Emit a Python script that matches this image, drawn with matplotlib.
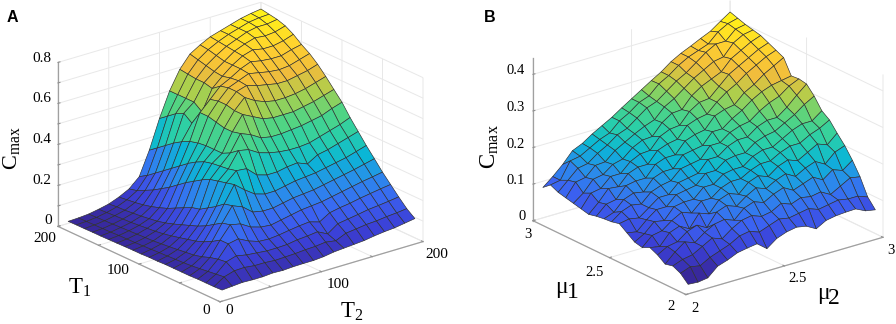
import numpy as np
import matplotlib
matplotlib.use("Agg")
import matplotlib.pyplot as plt
from matplotlib.colors import LinearSegmentedColormap
from mpl_toolkits.mplot3d import proj3d

plt.rcParams['mathtext.fontset'] = 'custom'
plt.rcParams['mathtext.rm'] = 'Liberation Serif'
plt.rcParams['mathtext.it'] = 'Liberation Serif'
plt.rcParams['font.family'] = ['Liberation Serif', 'DejaVu Serif']

T_values = [10, 20, 30, 40, 50, 60, 70, 80, 90, 100, 110, 120, 130, 140, 150, 160, 170, 180, 190, 200]
mu_values = [2.05, 2.10, 2.15, 2.20, 2.25, 2.30, 2.35, 2.40, 2.45, 2.50, 2.55, 2.60, 2.65, 2.70, 2.75, 2.80, 2.85, 2.90, 2.95, 3.00]

cmax_A = [
 [.024,.028,.032,.030,.030,.034,.032,.035,.036,.036,.040,.048,.052,.056,.060,.068,.074,.078,.086,.094],
 [.022,.055,.070,.072,.066,.066,.062,.064,.066,.070,.072,.078,.070,.092,.098,.105,.108,.114,.118,.124],
 [.022,.050,.095,.110,.100,.095,.090,.090,.092,.100,.104,.110,.085,.120,.128,.136,.145,.150,.156,.163],
 [.022,.045,.090,.150,.160,.135,.118,.115,.120,.128,.135,.140,.125,.155,.165,.172,.182,.190,.198,.205],
 [.020,.040,.080,.150,.210,.200,.170,.155,.150,.160,.170,.180,.185,.190,.200,.210,.220,.230,.238,.247],
 [.020,.035,.065,.125,.200,.270,.250,.210,.200,.200,.210,.220,.225,.230,.240,.250,.260,.270,.282,.294],
 [.020,.032,.055,.105,.175,.260,.340,.300,.265,.250,.250,.260,.270,.275,.280,.290,.300,.310,.325,.340],
 [.020,.030,.050,.090,.150,.230,.330,.375,.370,.325,.310,.310,.320,.325,.305,.335,.345,.360,.375,.390],
 [.018,.028,.045,.080,.130,.205,.320,.365,.440,.430,.400,.385,.375,.370,.370,.375,.390,.405,.420,.440],
 [.018,.026,.040,.070,.115,.180,.310,.360,.410,.490,.470,.440,.430,.430,.435,.440,.450,.460,.480,.496],
 [.016,.024,.036,.060,.100,.170,.290,.355,.390,.480,.550,.525,.500,.490,.490,.490,.500,.510,.525,.540],
 [.016,.022,.032,.052,.085,.150,.265,.345,.390,.480,.550,.600,.570,.550,.540,.540,.545,.555,.570,.585],
 [.015,.020,.030,.046,.072,.130,.240,.325,.390,.490,.560,.610,.625,.610,.600,.590,.590,.600,.610,.626],
 [.014,.019,.028,.042,.062,.110,.210,.300,.385,.500,.560,.610,.630,.650,.640,.630,.625,.630,.645,.660],
 [.013,.018,.026,.038,.056,.095,.180,.270,.375,.500,.550,.600,.625,.655,.675,.665,.660,.660,.675,.686],
 [.012,.016,.024,.034,.050,.082,.155,.240,.355,.430,.470,.570,.615,.655,.685,.700,.690,.690,.700,.717],
 [.012,.015,.022,.032,.046,.072,.130,.210,.330,.460,.500,.580,.620,.655,.690,.710,.725,.720,.725,.740],
 [.011,.014,.020,.030,.042,.065,.110,.180,.300,.440,.500,.580,.630,.665,.695,.715,.735,.745,.745,.753],
 [.011,.013,.018,.027,.040,.060,.090,.150,.270,.410,.500,.585,.640,.675,.700,.720,.735,.750,.757,.760],
 [.010,.012,.016,.025,.036,.055,.080,.125,.240,.380,.500,.590,.650,.680,.705,.720,.735,.750,.760,.767],
]

cmax_B = [
 [.010,.008,.012,.036,.045,.057,.062,.066,.045,.065,.075,.080,.075,.060,.075,.080,.082,.083,.070,.065],
 [.030,.040,.035,.050,.060,.070,.085,.090,.080,.090,.100,.095,.100,.105,.095,.100,.105,.100,.100,.090],
 [.040,.050,.055,.070,.085,.075,.095,.110,.115,.105,.110,.125,.115,.125,.120,.125,.110,.125,.140,.135],
 [.035,.060,.080,.070,.090,.105,.110,.100,.125,.135,.125,.140,.150,.135,.145,.155,.140,.160,.150,.170],
 [.050,.065,.070,.090,.100,.085,.120,.130,.120,.140,.155,.145,.160,.170,.155,.170,.180,.165,.190,.200],
 [.060,.055,.085,.095,.080,.115,.105,.135,.145,.135,.160,.170,.160,.180,.190,.180,.195,.210,.200,.224],
 [.050,.075,.080,.100,.115,.105,.130,.130,.150,.160,.160,.175,.185,.185,.200,.210,.210,.225,.235,.250],
 [.055,.070,.095,.090,.120,.125,.125,.150,.150,.170,.175,.175,.195,.205,.205,.220,.235,.245,.245,.265],
 [.070,.065,.090,.110,.110,.135,.140,.145,.170,.170,.190,.195,.195,.215,.225,.230,.245,.260,.280,.295],
 [.085,.090,.085,.105,.125,.125,.150,.155,.160,.190,.190,.210,.220,.220,.240,.250,.250,.270,.295,.318],
 [.080,.100,.110,.105,.130,.140,.145,.170,.175,.180,.210,.210,.230,.240,.245,.265,.280,.290,.310,.322],
 [.078,.088,.115,.125,.120,.150,.160,.160,.190,.195,.200,.230,.230,.250,.265,.285,.300,.310,.315,.320],
 [.075,.100,.105,.135,.140,.140,.170,.180,.180,.210,.220,.225,.255,.265,.270,.295,.310,.330,.345,.360],
 [.070,.095,.125,.122,.150,.160,.160,.190,.200,.205,.235,.245,.250,.275,.295,.310,.330,.345,.360,.370],
 [.075,.110,.115,.140,.140,.165,.178,.180,.210,.222,.225,.255,.272,.275,.300,.325,.340,.355,.370,.380],
 [.080,.100,.130,.135,.155,.162,.185,.198,.200,.230,.248,.250,.280,.298,.310,.322,.350,.365,.380,.390],
 [.085,.120,.125,.150,.152,.175,.190,.205,.218,.228,.255,.270,.290,.310,.325,.340,.345,.375,.390,.395],
 [.090,.115,.140,.145,.165,.180,.200,.210,.230,.250,.260,.280,.300,.315,.335,.355,.370,.370,.395,.400],
 [.100,.105,.150,.155,.170,.185,.195,.220,.235,.255,.265,.290,.305,.325,.340,.350,.360,.385,.400,.407],
 [.083,.105,.130,.160,.172,.190,.205,.220,.238,.255,.272,.289,.305,.325,.340,.352,.365,.377,.396,.414],
]

ticks_T = [0, 50, 100, 150, 200]
ticks_mu = [2, 2.5, 3]
zticks_A = [0, .1, .2, .3, .4, .5, .6, .7, .8]
zticks_B = [0, .1, .2, .3, .4]

parula = LinearSegmentedColormap.from_list('parula_like', [
    '#38289a', '#3b3fd6', '#3b63f2', '#2a8ceb', '#0ab6d6',
    '#2acfa8', '#50d484', '#a8d04e', '#f0bc3c', '#ffcf30', '#fff01a'])

W, H = 896, 324
fig = plt.figure(figsize=(W / 100, H / 100), dpi=100, facecolor='white')


def corner_px(ax, x, y, z):
    xs, ys, _ = proj3d.proj_transform(x, y, z, ax.get_proj())
    return ax.transData.transform((xs, ys))


def panel(rect, X, Y, Z, lim, zlim, az, el, aspect, xt, zt, target):
    ax = fig.add_axes(rect, projection='3d', proj_type='ortho')
    ax.patch.set_alpha(0)
    ax.view_init(elev=el, azim=az)
    ax.set_box_aspect(aspect)
    ax.set_xlim(*lim, view_margin=0)
    ax.set_ylim(*lim, view_margin=0)
    ax.set_zlim(*zlim, view_margin=0)
    XX, YY = np.meshgrid(X, Y)
    ax.plot_surface(XX, YY, np.array(Z), cmap=parula, rcount=40, ccount=40,
                    edgecolor='#2e2e2e', linewidth=0.45, shade=False, antialiased=True)
    ax.set_xticks(xt, [''] * len(xt))
    ax.set_yticks(xt, [''] * len(xt))
    ax.set_zticks(zt, [''] * len(zt))
    for axis in (ax.xaxis, ax.yaxis, ax.zaxis):
        axis.set_pane_color((1, 1, 1, 0))
        axis.pane.set_edgecolor('#e4e4e4')
        axis.line.set_color('#a0a0a0')
        axis.line.set_linewidth(0.9)
        axis._axinfo['grid'].update(color='#e8e8e8', linewidth=0.7)
        axis._axinfo['tick'].update(inward_factor=0.0, outward_factor=0.12, color='#909090')
        axis.set_tick_params(color='#909090')
    ax.zaxis.set_ticks_position('upper')
    # place the box on the figure: fit the floor corners to the target pixels
    left, right = target
    for _ in range(3):
        fig.canvas.draw()
        pl = corner_px(ax, lim[0], lim[1], zlim[0])
        pr = corner_px(ax, lim[1], lim[0], zlim[0])
        s = (right[0] - left[0]) / (pr[0] - pl[0])
        p = ax.get_position()
        cx, cy = (p.x0 + p.x1) / 2, (p.y0 + p.y1) / 2
        w, h = p.width * s, p.height * s
        cur = (pl + pr) / 2
        want = np.array([(left[0] + right[0]) / 2, H - (left[1] + right[1]) / 2])
        dx, dy = (want - (cur - np.array([cx * W, cy * H])) * s - np.array([cx * W, cy * H])) / [W, H]
        ax.set_position([cx - w / 2 + dx, cy - h / 2 + dy, w, h])
    return ax


axA = panel([0.0, 0.0, 0.5, 1.0], T_values, T_values, cmax_A, (0, 200), (0, .8), -128.6, 21.8,
            (1, 1, .68), ticks_T, zticks_A, ((58, 225), (423, 243)))
axB = panel([0.5, 0.0, 0.5, 1.0], mu_values, mu_values, cmax_B, (2, 3), (0, .445), -127.8, 22,
            (1, 1, .704), ticks_mu, zticks_B, ((533, 220), (883, 238)))


def label(x, y, s, size, **kw):
    fig.text(x / W, 1 - y / H, s, fontsize=size, ha='center', va='center', **kw)


for x, y, s in [(42, 59, '0.8'), (42, 99, '0.6'), (42, 140, '0.4'), (42, 181, '0.2'), (48, 221, '0'),
                (45, 238, '200'), (118, 271, '100'), (206, 311, '0'),
                (229, 311, '0'), (338, 284, '100'), (437, 255, '200')]:
    label(x, y, s, 11)
for x, y, s in [(516, 71, '0.4'), (516, 108, '0.3'), (516, 145, '0.2'), (516, 181, '0.1'), (522, 217, '0'),
                (528, 235, '3'), (595, 272, '2.5'), (671, 307, '2'),
                (695, 308, '2'), (798, 279, '2.5'), (891, 250, '3')]:
    label(x, y, s, 10.5)

label(12, 17, 'A', 11.5, family='Liberation Sans', weight='bold')
label(490, 17, 'B', 11.5, family='Liberation Sans', weight='bold')

label(80, 288, r'$\mathrm{T}_{1}$', 16.5)
label(352, 312, r'$\mathrm{T}_{2}$', 16.5)
label(11, 148, r'$\mathrm{C}_{\mathrm{max}}$', 16, rotation=90)
label(561, 287, 'μ', 17)
label(573, 293, '1', 17)
label(823, 294, 'μ', 17)
label(834, 298, '2', 17)
label(490, 147, r'$\mathrm{C}_{\mathrm{max}}$', 16.5, rotation=90)

fig.savefig('out.png', dpi=100)
